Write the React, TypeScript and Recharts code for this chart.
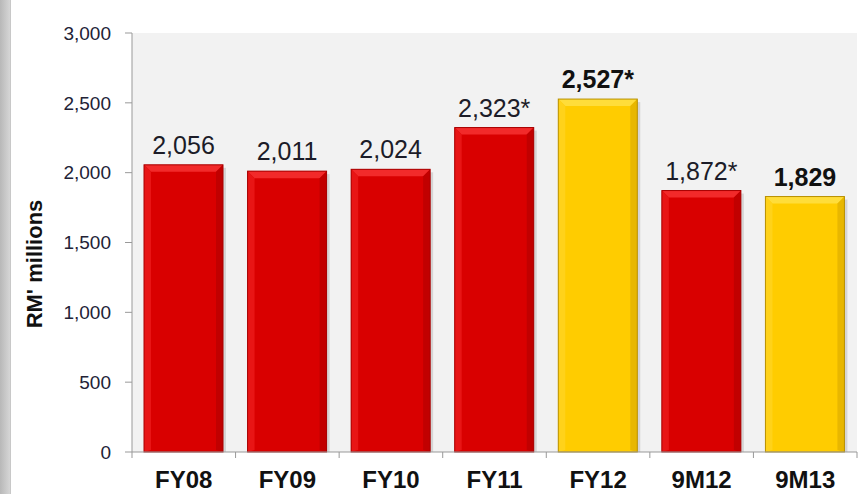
import { BarChart, Bar, XAxis, YAxis, CartesianGrid, LabelList } from 'recharts';

const periods = ['FY08', 'FY09', 'FY10', 'FY11', 'FY12', '9M12', '9M13'];
const revenue = [2056, 2011, 2024, 2323, 2527, 1872, 1829];
const valueLabels = ['2,056', '2,011', '2,024', '2,323*', '2,527*', '1,872*', '1,829'];
const highlighted = [false, false, false, false, true, false, true];
const yTicks = [0, 500, 1000, 1500, 2000, 2500, 3000];

const chartData = periods.map((p, i) => ({
  period: p,
  value: revenue[i],
  label: valueLabels[i],
  hl: highlighted[i],
}));

const FONT = '"Liberation Sans", Arial, sans-serif';

const RED = { main: '#D90000', top: '#F22A2A', side: '#E81515', dark: '#B00000', edge: '#A80000' };
const YELLOW = { main: '#FFCC00', top: '#FFDD3A', side: '#FFD21A', dark: '#D9A800', edge: '#B89000' };

const BevelBar = (props: any) => {
  const { x, y, width, height, payload } = props;
  if (!height || height <= 0) return null;
  const c = payload.hl ? YELLOW : RED;
  const b = 7;
  return (
    <g>
      <rect x={x + 3} y={y + 3} width={width} height={height - 3} fill="#bdbdbd" opacity={0.55} />
      <rect x={x} y={y} width={width} height={height} fill={c.main} />
      <polygon points={`${x},${y} ${x + width},${y} ${x + width - b},${y + b} ${x + b},${y + b}`} fill={c.top} />
      <polygon points={`${x},${y} ${x + b},${y + b} ${x + b},${y + height - 2} ${x},${y + height}`} fill={c.side} />
      <polygon points={`${x + width},${y} ${x + width - b},${y + b} ${x + width - b},${y + height - 2} ${x + width},${y + height}`} fill={c.dark} opacity={0.6} />
      <rect x={x} y={y} width={width} height={height} fill="none" stroke={c.edge} strokeWidth={1} />
    </g>
  );
};

const ValueLabel = (props: any) => {
  const { x, y, width, index } = props;
  const d = chartData[index];
  return (
    <text
      x={x + width / 2}
      y={y - 11}
      textAnchor="middle"
      fontFamily={FONT}
      fontSize={25}
      fontWeight={d.hl ? 'bold' : 'normal'}
      fill={d.hl ? '#111' : '#1c1c28'}
    >
      {d.label}
    </text>
  );
};

const XTick = (props: any) => {
  const { x, y, payload, index } = props;
  const half = payload.offset || 51.8;
  return (
    <g>
      {index === 0 && <line x1={x - half} x2={x - half} y1={y} y2={y + 6} stroke="#999" />}
      <line x1={x + half} x2={x + half} y1={y} y2={y + 6} stroke="#999" />
      <text x={x} y={y + 36} textAnchor="middle" fontFamily={FONT} fontSize={24} fontWeight="bold" fill="#111">
        {payload.value}
      </text>
    </g>
  );
};

export default function App() {
  return (
    <div style={{ position: 'fixed', left: 0, top: 0, width: 858, height: 494, background: '#fff', overflow: 'hidden' }}>
      <div
        style={{
          position: 'absolute',
          left: 0,
          top: 0,
          width: 10,
          height: 494,
          background: 'linear-gradient(to right, #b8b8b8, #d6d6d6)',
          borderRight: '1px solid #c8c8c8',
        }}
      />
      <BarChart
        width={858}
        height={494}
        data={chartData}
        margin={{ top: 33, right: 1, bottom: 0, left: 0 }}
        style={{ position: 'absolute', left: 0, top: 0 }}
      >
        <CartesianGrid horizontal={false} vertical={false} fill="#F2F2F2" />
        <XAxis
          dataKey="period"
          tick={<XTick />}
          tickLine={false}
          tickSize={0}
          tickMargin={0}
          axisLine={{ stroke: '#999' }}
          interval={0}
          height={42}
        />
        <YAxis
          domain={[0, 3000]}
          ticks={yTicks}
          width={132}
          tickSize={7}
          tickMargin={14}
          tickLine={{ stroke: '#999' }}
          axisLine={{ stroke: '#999' }}
          tickFormatter={(v: number) => v.toLocaleString('en-US')}
          tick={{ fontFamily: FONT, fontSize: 19, fill: '#222236' }}
          label={() => (
            <text
              transform="translate(42, 264) rotate(-90)"
              textAnchor="middle"
              fontFamily={FONT}
              fontSize={22}
              fontWeight="bold"
              fill="#111"
            >
              RM' millions
            </text>
          )}
        />
        <Bar dataKey="value" barSize={79} shape={<BevelBar />} isAnimationActive={false}>
          <LabelList dataKey="label" content={<ValueLabel />} />
        </Bar>
      </BarChart>
    </div>
  );
}
